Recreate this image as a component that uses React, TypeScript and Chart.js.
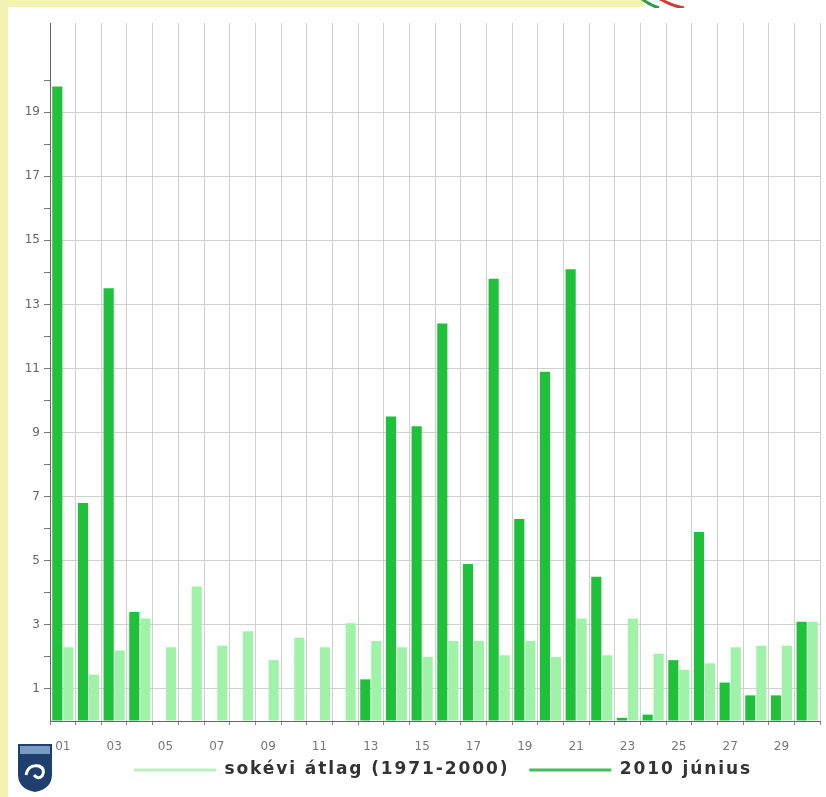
import React, { useEffect, useRef } from "react";
import { Chart, registerables } from "chart.js";

Chart.register(...registerables);

const days = ["01","02","03","04","05","06","07","08","09","10","11","12","13","14","15","16","17","18","19","20","21","22","23","24","25","26","27","28","29","30"];
const june2010 = [19.8, 6.8, 13.5, 3.4, 0, 0, 0, 0, 0, 0, 0, 0, 1.3, 9.5, 9.2, 12.4, 4.9, 13.8, 6.3, 10.9, 14.1, 4.5, 0.1, 0.2, 1.9, 5.9, 1.2, 0.8, 0.8, 3.1];
const longTermAvg = [2.3, 1.45, 2.2, 3.2, 2.3, 4.2, 2.35, 2.8, 1.9, 2.6, 2.3, 3.05, 2.5, 2.3, 2.0, 2.5, 2.5, 2.05, 2.5, 2.0, 3.2, 2.05, 3.2, 2.1, 1.6, 1.8, 2.3, 2.35, 2.35, 3.1];
const yLabels = [1, 3, 5, 7, 9, 11, 13, 15, 17, 19];
const seriesNames = ["2010 június", "sokévi átlag (1971-2000)"];

const DARK = "#1fc13b";
const LIGHT = "#a0f2a8";
const DARK_LEGEND = "#48bb5c";
const LIGHT_LEGEND = "#b8f0c0";
const YELLOW = "#f3f3b3";
const SPACING = "1.9px";

const spacingPlugin = {
  id: "spacing",
  beforeLayout(chart: any) { (chart.ctx as any).letterSpacing = SPACING; },
  afterLayout(chart: any) {
    (chart.ctx as any).letterSpacing = "0px";
    if (chart.legend) {
      chart.legend.left += 29;
      chart.legend.right += 29;
      chart.legend.top -= 14;
    }
  },
  beforeDraw(chart: any) { (chart.ctx as any).letterSpacing = SPACING; },
  beforeDatasetsDraw(chart: any) { (chart.ctx as any).letterSpacing = "0px"; },
};

export default function App() {
  const ref = useRef<HTMLCanvasElement | null>(null);
  useEffect(() => {
    if (!ref.current) return;
    const chart = new Chart(ref.current, {
      type: "bar",
      data: {
        labels: days,
        datasets: [
          { label: seriesNames[0], data: june2010, backgroundColor: DARK, borderWidth: 0 },
          { label: seriesNames[1], data: longTermAvg, backgroundColor: LIGHT, borderWidth: 0 },
        ],
      },
      options: {
        responsive: false,
        animation: false,
        datasets: { bar: { categoryPercentage: 0.86, barPercentage: 0.92 } },
        layout: { padding: { top: 16, right: 6, bottom: 8.5, left: 0 } },
        plugins: {
          tooltip: { enabled: false },
          legend: {
            position: "bottom",
            maxHeight: 33,
            labels: {
              boxWidth: 82,
              boxHeight: 3,
              padding: 20,
              color: "#333",
              font: { family: "DejaVu Sans", size: 17, weight: "bold" },
              sort: (a: any, b: any) => b.datasetIndex - a.datasetIndex,
              generateLabels: (c: any) => {
                const items = (Chart.defaults.plugins.legend.labels as any).generateLabels(c);
                return items.map((it: any) => ({
                  ...it,
                  fillStyle: it.datasetIndex === 0 ? DARK_LEGEND : LIGHT_LEGEND,
                  strokeStyle: "transparent",
                  lineWidth: 0,
                }));
              },
            },
          },
        },
        scales: {
          x: {
            offset: true,
            grid: { offset: true, color: "#d0d0d0", tickColor: "#888", tickLength: 4, lineWidth: 1 },
            border: { color: "#666", width: 1 },
            ticks: {
              z: 1,
              autoSkip: false,
              maxRotation: 0,
              minRotation: 0,
              padding: 15,
              color: "#777",
              font: { family: "DejaVu Sans", size: 12 },
              callback: (_v: any, i: number) => (i % 2 === 0 ? days[i] : ""),
            },
            afterFit: (s: any) => { s.height = 34.5; },
          },
          y: {
            min: 0,
            max: 21.78,
            grid: {
              color: (ctx: any) => {
                const v = ctx.tick ? ctx.tick.value : 0;
                return yLabels.includes(v) ? "#d0d0d0" : "transparent";
              },
              tickColor: (ctx: any) => {
                const v = ctx.tick ? ctx.tick.value : 0;
                return Number.isInteger(v) && v > 0 && v <= 20 ? "#777" : "transparent";
              },
              tickLength: 6,
            },
            border: { color: "#666", width: 1 },
            ticks: {
              z: 1,
              stepSize: 1,
              autoSkip: false,
              padding: 4,
              color: "#666",
              font: { family: "DejaVu Sans", size: 12 },
              callback: (v: any) => (yLabels.includes(v) ? String(v) : ""),
            },
            afterFit: (s: any) => { s.width = 42; },
          },
        },
      },
      plugins: [spacingPlugin],
    } as any);
    return () => chart.destroy();
  }, []);

  return (
    <div style={{ position: "absolute", left: 0, top: 0, width: 826, height: 797, background: "#fff", overflow: "hidden" }}>
      <div style={{ position: "absolute", left: 0, top: 0, width: 8, height: 797, background: YELLOW }} />
      <div style={{ position: "absolute", left: 0, top: 0, width: 644, height: 7, background: YELLOW }} />
      <svg style={{ position: "absolute", left: 630, top: 0 }} width={70} height={8}>
        <path d="M12 -1 Q20 5 29 8" stroke="#2e9b4c" strokeWidth={3} fill="none" />
        <path d="M30 -1 Q42 6 54 8" stroke="#d23a34" strokeWidth={3} fill="none" />
      </svg>
      <canvas ref={ref} width={818} height={790} style={{ position: "absolute", left: 8, top: 7, width: 818, height: 790 }} />
      <svg style={{ position: "absolute", left: 17, top: 743 }} width={36} height={50}>
        <path d="M1 1 H35 V31 Q35 46 18 49 Q1 46 1 31 Z" fill="#1f3f6e" />
        <rect x={3} y={3} width={30} height={8} fill="#7a9cc4" />
        <path d="M9 32 Q11 21 22 23 Q29 26 25 33 Q21 37 17 32" stroke="#fff" strokeWidth={3} fill="none" />
      </svg>
    </div>
  );
}
